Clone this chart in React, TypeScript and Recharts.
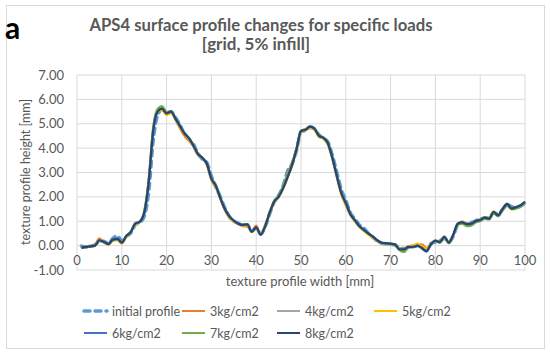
import React from "react";
import { LineChart, Line, XAxis, YAxis, CartesianGrid } from "recharts";

const xs = [1,2,3,4,5,6,7,8,9,10,11,12,13,14,15,16,17,18,19,20,21,22,23,24,25,26,27,28,29,30,31,32,33,34,35,36,37,38,39,40,41,42,43,44,45,46,47,48,49,50,51,52,53,54,55,56,57,58,59,60,61,62,63,64,65,66,67,68,69,70,71,72,73,74,75,76,77,78,79,80,81,82,83,84,85,86,87,88,89,90,91,92,93,94,95,96,97,98,99,100];

const initialProfile = [-0.02,-0.05,-0.02,0.02,0.18,0.18,0.08,0.30,0.40,0.20,0.38,0.52,0.85,0.95,1.20,2.20,4.30,5.35,5.58,5.45,5.48,5.25,4.95,4.55,4.35,4.15,3.78,3.55,3.40,2.85,2.40,2.00,1.55,1.18,1.00,0.92,0.85,0.85,0.60,0.72,0.48,0.78,1.30,1.78,2.05,2.45,3.05,3.35,3.90,4.68,4.72,4.85,4.78,4.55,4.40,4.25,3.70,3.00,2.30,1.85,1.35,1.10,0.85,0.72,0.50,0.35,0.20,0.10,0.08,0.05,0.02,-0.10,-0.12,-0.08,-0.02,0.02,-0.05,-0.15,0.08,0.15,0.20,0.30,0.15,0.40,0.85,0.92,0.90,0.95,1.02,1.10,1.12,1.15,1.35,1.30,1.48,1.68,1.60,1.55,1.62,1.75];

const kg3 = [-0.06,-0.04,0.00,0.05,0.30,0.12,0.05,0.28,0.25,0.10,0.35,0.55,0.92,1.00,1.40,2.70,4.80,5.52,5.58,5.38,5.45,5.15,4.80,4.50,4.30,4.05,3.72,3.62,3.30,2.68,2.38,1.92,1.45,1.15,0.98,0.88,0.80,0.78,0.62,0.82,0.45,0.82,1.38,1.82,2.02,2.40,2.95,3.40,3.98,4.68,4.72,4.85,4.78,4.48,4.40,4.15,3.55,2.80,2.10,1.65,1.25,1.02,0.78,0.62,0.48,0.35,0.20,0.10,0.08,0.06,0.05,-0.10,-0.12,-0.02,0.00,0.05,0.05,-0.10,0.08,0.22,0.18,0.38,0.10,0.42,0.88,0.92,0.85,0.92,1.00,1.08,1.12,1.12,1.40,1.22,1.45,1.65,1.55,1.55,1.62,1.78];

const kg4 = [-0.08,-0.06,-0.02,0.02,0.20,0.14,0.05,0.22,0.26,0.12,0.38,0.55,0.88,0.96,1.30,2.55,4.65,5.48,5.60,5.40,5.48,5.18,4.88,4.58,4.38,4.08,3.75,3.58,3.32,2.72,2.42,1.95,1.48,1.18,1.00,0.90,0.84,0.86,0.58,0.76,0.46,0.78,1.32,1.78,2.00,2.35,2.82,3.30,3.92,4.68,4.74,4.86,4.78,4.50,4.40,4.18,3.58,2.85,2.18,1.72,1.30,1.05,0.80,0.64,0.48,0.36,0.20,0.08,0.05,0.04,0.04,-0.12,-0.14,-0.06,-0.04,0.00,-0.08,-0.18,0.04,0.20,0.15,0.34,0.12,0.44,0.92,0.98,0.88,0.90,0.98,1.05,1.15,1.10,1.36,1.24,1.48,1.68,1.52,1.56,1.64,1.78];

const kg5 = [-0.08,-0.05,-0.04,0.00,0.20,0.14,0.04,0.20,0.22,0.08,0.36,0.55,0.85,0.95,1.38,2.65,4.75,5.48,5.55,5.35,5.45,5.18,4.85,4.58,4.36,4.08,3.75,3.60,3.32,2.72,2.42,1.92,1.48,1.16,0.98,0.88,0.82,0.82,0.55,0.72,0.50,0.85,1.30,1.75,1.98,2.32,2.78,3.28,3.92,4.65,4.72,4.85,4.75,4.45,4.38,4.15,3.58,2.82,2.12,1.70,1.28,1.00,0.76,0.60,0.45,0.32,0.18,0.10,0.08,0.05,0.02,-0.12,-0.15,-0.05,0.00,0.08,-0.02,-0.12,0.05,0.18,0.15,0.32,0.15,0.45,0.90,1.00,0.90,0.92,1.00,1.05,1.18,1.15,1.42,1.25,1.45,1.62,1.50,1.52,1.62,1.76];

const kg6 = [-0.10,-0.06,-0.04,0.00,0.20,0.16,0.08,0.25,0.30,0.14,0.40,0.56,0.90,0.97,1.32,2.55,4.68,5.50,5.63,5.44,5.52,5.22,4.92,4.62,4.42,4.12,3.76,3.60,3.36,2.78,2.46,1.96,1.52,1.22,1.03,0.90,0.86,0.88,0.58,0.74,0.45,0.78,1.33,1.80,2.02,2.38,2.85,3.32,3.96,4.70,4.76,4.88,4.82,4.52,4.44,4.22,3.64,2.90,2.20,1.78,1.32,1.06,0.82,0.66,0.52,0.38,0.22,0.12,0.10,0.08,0.04,-0.16,-0.16,-0.06,-0.06,-0.02,-0.12,-0.25,0.04,0.20,0.14,0.36,0.12,0.46,0.90,0.96,0.88,0.90,1.02,1.06,1.16,1.12,1.38,1.25,1.52,1.72,1.54,1.58,1.66,1.80];

const kg7 = [-0.08,-0.06,-0.03,0.00,0.18,0.14,0.06,0.22,0.26,0.12,0.40,0.56,0.90,0.98,1.40,2.70,4.85,5.62,5.72,5.48,5.52,5.22,4.90,4.62,4.42,4.12,3.78,3.58,3.35,2.78,2.50,1.98,1.52,1.20,1.02,0.90,0.86,0.88,0.56,0.74,0.46,0.78,1.32,1.82,2.06,2.42,2.88,3.35,4.00,4.72,4.78,4.90,4.82,4.52,4.42,4.22,3.62,2.88,2.18,1.76,1.32,1.05,0.80,0.64,0.50,0.36,0.20,0.10,0.08,0.06,0.02,-0.18,-0.26,-0.08,-0.06,0.00,-0.10,-0.20,0.05,0.22,0.10,0.32,0.10,0.42,0.85,0.90,0.80,0.82,0.95,1.00,1.10,1.08,1.32,1.20,1.45,1.65,1.50,1.52,1.60,1.75];

const kg8 = [-0.08,-0.05,-0.03,0.00,0.22,0.15,0.06,0.24,0.28,0.12,0.40,0.55,0.90,0.98,1.35,2.60,4.70,5.50,5.62,5.42,5.50,5.20,4.90,4.60,4.40,4.10,3.75,3.60,3.35,2.75,2.45,1.95,1.50,1.20,1.02,0.90,0.85,0.87,0.57,0.75,0.45,0.80,1.35,1.80,2.00,2.35,2.80,3.30,3.95,4.70,4.75,4.88,4.80,4.50,4.42,4.20,3.60,2.85,2.15,1.75,1.30,1.05,0.80,0.65,0.50,0.38,0.22,0.12,0.10,0.08,0.05,-0.15,-0.15,-0.05,-0.05,0.00,-0.10,-0.22,0.05,0.20,0.15,0.36,0.12,0.45,0.90,0.95,0.88,0.90,1.00,1.05,1.15,1.10,1.38,1.24,1.50,1.70,1.52,1.58,1.65,1.80];

const xTicks = [0, 10, 20, 30, 40, 50, 60, 70, 80, 90, 100];
const yTicks = [-1, 0, 1, 2, 3, 4, 5, 6, 7];

const series = [
  { key: "initial", name: "initial profile", values: initialProfile, color: "#5B9BD5", dashed: true },
  { key: "kg3", name: "3kg/cm2", values: kg3, color: "#ED7D31", dashed: false },
  { key: "kg4", name: "4kg/cm2", values: kg4, color: "#A5A5A5", dashed: false },
  { key: "kg5", name: "5kg/cm2", values: kg5, color: "#FFC000", dashed: false },
  { key: "kg6", name: "6kg/cm2", values: kg6, color: "#4472C4", dashed: false },
  { key: "kg7", name: "7kg/cm2", values: kg7, color: "#70AD47", dashed: false },
  { key: "kg8", name: "8kg/cm2", values: kg8, color: "#264478", dashed: false },
];

const data = xs.map((x, i) => {
  const row: Record<string, number> = { x };
  series.forEach((s) => { row[s.key] = s.values[i]; });
  return row;
});

const FONT = "Lato, 'Open Sans', sans-serif";
const GREY = "#595959";

const XTick = (props: any) => {
  const { x, y, payload } = props;
  return (
    <text x={x} y={y - 5} textAnchor="middle" fill={GREY} fontSize={13} fontFamily={FONT}>
      {payload.value}
    </text>
  );
};

const legendPos = [
  { left: 82, top: 311 },
  { left: 180, top: 311 },
  { left: 275, top: 311 },
  { left: 372, top: 311 },
  { left: 82, top: 333 },
  { left: 180, top: 333 },
  { left: 275, top: 333 },
];

export default function App() {
  return (
    <div style={{ position: "absolute", left: 0, top: 0, width: 550, height: 356, background: "#fff", fontFamily: FONT }}>
      <div style={{ position: "absolute", left: 6, top: 5, width: 539, height: 344, border: "1px solid #d9d9d9", boxSizing: "border-box" }} />
      <div style={{ position: "absolute", left: 0, top: 0 }}>
        <LineChart width={550} height={356} data={data} margin={{ top: 75, right: 25, bottom: 66, left: 0 }}>
          <CartesianGrid stroke="#d9d9d9" strokeWidth={1} />
          <XAxis
            type="number"
            dataKey="x"
            domain={[0, 100]}
            ticks={xTicks}
            axisLine={false}
            tickLine={false}
            tickSize={0}
            tickMargin={0}
            height={20}
            tick={<XTick />}
            interval={0}
          />
          <YAxis
            type="number"
            domain={[-1, 7]}
            ticks={yTicks}
            width={77}
            axisLine={false}
            tickLine={false}
            tickSize={0}
            tickMargin={13}
            interval={0}
            tickFormatter={(v: number) => v.toFixed(2)}
            tick={{ fill: GREY, fontSize: 13, fontFamily: FONT }}
          />
          {series.map((s) => (
            <Line
              key={s.key}
              dataKey={s.key}
              name={s.name}
              type="monotone"
              stroke={s.color}
              strokeWidth={s.dashed ? 3.5 : 2.2}
              strokeDasharray={s.dashed ? "6 5" : undefined}
              strokeLinecap={s.dashed ? "round" : "butt"}
              dot={false}
              activeDot={false}
              isAnimationActive={false}
            />
          ))}
        </LineChart>
      </div>
      <svg width={550} height={356} style={{ position: "absolute", left: 0, top: 0, pointerEvents: "none" }}>
        <text x={5} y={39} fontSize={30} fontWeight={700} fill="#000" fontFamily={FONT}>a</text>
        <text x={261} y={31} textAnchor="middle" fontSize={16.5} fontWeight={700} fill={GREY} fontFamily={FONT} textLength={343} lengthAdjust="spacingAndGlyphs">
          APS4 surface profile changes for specific loads
        </text>
        <text x={256} y={50} textAnchor="middle" fontSize={17} fontWeight={700} fill={GREY} fontFamily={FONT}>
          [grid, 5% infill]
        </text>
        <text x={0} y={0} transform="translate(30,172) rotate(-90)" textAnchor="middle" fontSize={12.5} fill={GREY} fontFamily={FONT}>
          texture profile height [mm]
        </text>
        <text x={300} y={286} textAnchor="middle" fontSize={13} fill={GREY} fontFamily={FONT}>
          texture profile width [mm]
        </text>
        {series.map((s, i) => {
          const p = legendPos[i];
          return (
            <g key={s.key}>
              <line
                x1={p.left + 2}
                x2={p.left + 25}
                y1={p.top}
                y2={p.top}
                stroke={s.color}
                strokeWidth={s.dashed ? 3.5 : 2}
                strokeDasharray={s.dashed ? "6 5" : undefined}
                strokeLinecap={s.dashed ? "round" : "butt"}
              />
              <text x={p.left + 30} y={p.top + 4.5} fontSize={12.5} fill={GREY} fontFamily={FONT}>{s.name}</text>
            </g>
          );
        })}
      </svg>
    </div>
  );
}
